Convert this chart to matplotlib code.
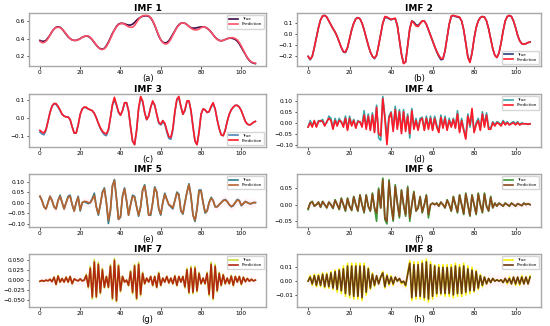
import numpy as np
import matplotlib
matplotlib.use("Agg")
import matplotlib.pyplot as plt

# values, one per time step (0..107)
imf1_true = [0.38, 0.37, 0.37, 0.38, 0.41, 0.44, 0.48, 0.51, 0.53, 0.535,
             0.53, 0.51, 0.48, 0.45, 0.42, 0.40, 0.385, 0.38, 0.38, 0.39,
             0.40, 0.415, 0.425, 0.43, 0.425, 0.41, 0.385, 0.355, 0.325, 0.30,
             0.285, 0.28, 0.29, 0.32, 0.36, 0.41, 0.46, 0.50, 0.54, 0.565,
             0.575, 0.575, 0.57, 0.56, 0.555, 0.555, 0.565, 0.585, 0.61, 0.63,
             0.645, 0.655, 0.66, 0.66, 0.655, 0.635, 0.60, 0.55, 0.49, 0.43,
             0.385, 0.36, 0.35, 0.355, 0.375, 0.41, 0.45, 0.49, 0.53, 0.56,
             0.575, 0.58, 0.575, 0.56, 0.54, 0.525, 0.52, 0.52, 0.525, 0.53,
             0.535, 0.535, 0.53, 0.52, 0.50, 0.475, 0.445, 0.415, 0.395, 0.38,
             0.375, 0.38, 0.39, 0.40, 0.405, 0.405, 0.40, 0.39, 0.37, 0.34,
             0.30, 0.26, 0.22, 0.18, 0.15, 0.13, 0.12, 0.115]
imf1_pred = [0.37, 0.355, 0.355, 0.37, 0.40, 0.44, 0.48, 0.51, 0.525, 0.53,
             0.525, 0.51, 0.485, 0.455, 0.425, 0.40, 0.385, 0.38, 0.38, 0.385,
             0.40, 0.415, 0.425, 0.43, 0.43, 0.415, 0.39, 0.36, 0.33, 0.30,
             0.28, 0.275, 0.285, 0.31, 0.35, 0.40, 0.45, 0.50, 0.535, 0.56,
             0.57, 0.575, 0.565, 0.55, 0.535, 0.53, 0.53, 0.55, 0.585, 0.62,
             0.645, 0.66, 0.665, 0.665, 0.66, 0.64, 0.605, 0.555, 0.495, 0.435,
             0.385, 0.355, 0.34, 0.34, 0.36, 0.395, 0.44, 0.485, 0.525, 0.555,
             0.575, 0.58, 0.575, 0.56, 0.54, 0.52, 0.505, 0.50, 0.50, 0.51,
             0.525, 0.535, 0.53, 0.52, 0.50, 0.475, 0.445, 0.415, 0.39, 0.38,
             0.375, 0.38, 0.39, 0.40, 0.405, 0.41, 0.41, 0.40, 0.385, 0.355,
             0.315, 0.27, 0.225, 0.185, 0.155, 0.135, 0.125, 0.12]

imf2_true = [-0.20, -0.23, -0.20, -0.12, -0.03, 0.06, 0.13, 0.165, 0.17, 0.155,
             0.12, 0.085, 0.05, 0.02, -0.02, -0.07, -0.12, -0.16, -0.165, -0.12,
             -0.04, 0.04, 0.10, 0.14, 0.15, 0.14, 0.10, 0.04, -0.03, -0.10,
             -0.16, -0.20, -0.22, -0.19, -0.10, 0.00, 0.10, 0.15, 0.15, 0.14,
             0.13, 0.14, 0.14, 0.08, -0.05, -0.18, -0.26, -0.25, -0.10, 0.05,
             0.12, 0.11, 0.085, 0.08, 0.10, 0.12, 0.12, 0.09, 0.04, -0.01,
             -0.06, -0.11, -0.16, -0.20, -0.23, -0.225, -0.15, -0.03, 0.09, 0.16,
             0.17, 0.16, 0.155, 0.15, 0.12, 0.04, -0.08, -0.20, -0.25, -0.17,
             -0.04, 0.06, 0.12, 0.15, 0.16, 0.155, 0.12, 0.05, -0.04, -0.13,
             -0.19, -0.21, -0.17, -0.08, 0.03, 0.12, 0.16, 0.17, 0.16, 0.12,
             0.06, -0.01, -0.06, -0.085, -0.09, -0.085, -0.075, -0.07]
imf2_pred = [-0.20, -0.225, -0.20, -0.12, -0.03, 0.06, 0.13, 0.165, 0.17, 0.155,
             0.12, 0.085, 0.05, 0.02, -0.02, -0.07, -0.12, -0.155, -0.16, -0.12,
             -0.04, 0.04, 0.10, 0.14, 0.15, 0.14, 0.10, 0.04, -0.03, -0.10,
             -0.16, -0.20, -0.215, -0.19, -0.10, 0.00, 0.10, 0.16, 0.155, 0.145,
             0.135, 0.14, 0.145, 0.08, -0.05, -0.18, -0.265, -0.25, -0.10, 0.05,
             0.12, 0.10, 0.075, 0.07, 0.095, 0.12, 0.12, 0.09, 0.04, -0.01,
             -0.06, -0.11, -0.155, -0.19, -0.22, -0.22, -0.15, -0.03, 0.09, 0.165,
             0.17, 0.165, 0.16, 0.155, 0.12, 0.04, -0.08, -0.21, -0.255, -0.17,
             -0.04, 0.06, 0.12, 0.15, 0.16, 0.155, 0.12, 0.05, -0.04, -0.13,
             -0.19, -0.21, -0.17, -0.08, 0.03, 0.12, 0.16, 0.17, 0.16, 0.12,
             0.06, -0.01, -0.06, -0.085, -0.09, -0.085, -0.075, -0.07]

imf3_true = [-0.08, -0.09, -0.095, -0.07, -0.02, 0.03, 0.065, 0.08, 0.075, 0.06,
             0.04, 0.02, 0.01, 0.005, 0.005, -0.01, -0.05, -0.085, -0.085, -0.04,
             0.02, 0.05, 0.06, 0.055, 0.05, 0.045, 0.04, 0.025, 0.0, -0.03,
             -0.06, -0.08, -0.095, -0.10, -0.07, 0.0, 0.07, 0.10, 0.07, 0.03,
             0.015, 0.04, 0.08, 0.085, 0.04, -0.05, -0.13, -0.15, -0.07, 0.05,
             0.11, 0.09, 0.03, -0.01, 0.01, 0.06, 0.09, 0.07, 0.02, -0.03,
             -0.04, -0.025, -0.035, -0.08, -0.115, -0.12, -0.07, 0.03, 0.10, 0.11,
             0.06, 0.02, 0.04, 0.09, 0.095, 0.04, -0.05, -0.13, -0.15, -0.08,
             0.02, 0.05, 0.045, 0.03, 0.035, 0.06, 0.08, 0.05, -0.01, -0.06,
             -0.095, -0.10, -0.07, -0.02, 0.02, 0.045, 0.06, 0.07, 0.07, 0.06,
             0.04, 0.01, -0.02, -0.035, -0.04, -0.035, -0.025, -0.02]
imf3_pred = [-0.07, -0.08, -0.085, -0.065, -0.02, 0.03, 0.065, 0.08, 0.08, 0.065,
             0.045, 0.02, 0.01, 0.005, 0.005, -0.01, -0.05, -0.085, -0.085, -0.04,
             0.02, 0.05, 0.06, 0.06, 0.05, 0.045, 0.04, 0.025, 0.0, -0.03,
             -0.055, -0.075, -0.085, -0.09, -0.065, 0.0, 0.075, 0.115, 0.075, 0.035,
             0.015, 0.04, 0.085, 0.085, 0.04, -0.05, -0.13, -0.15, -0.07, 0.055,
             0.12, 0.095, 0.03, -0.01, 0.01, 0.06, 0.095, 0.07, 0.02, -0.025,
             -0.035, -0.015, -0.03, -0.07, -0.105, -0.11, -0.06, 0.035, 0.105, 0.12,
             0.065, 0.02, 0.045, 0.095, 0.095, 0.04, -0.05, -0.13, -0.15, -0.08,
             0.02, 0.05, 0.045, 0.03, 0.035, 0.065, 0.085, 0.05, -0.01, -0.06,
             -0.095, -0.10, -0.07, -0.02, 0.02, 0.045, 0.06, 0.07, 0.07, 0.06,
             0.04, 0.01, -0.02, -0.035, -0.04, -0.035, -0.025, -0.02]

imf4_true = [-0.02, 0.01, -0.01, 0.005, -0.015, 0.01, 0.005, 0.015, -0.01, 0.0,
             0.03, 0.02, -0.02, 0.02, -0.01, 0.02, 0.0, -0.01, 0.03, -0.03,
             0.03, -0.01, 0.015, -0.02, 0.01, 0.0, -0.01, 0.055, -0.02, 0.04,
             -0.03, 0.045, -0.04, 0.08, -0.07, -0.08, 0.12, 0.03, -0.06, 0.03,
             0.05, -0.03, 0.075, -0.02, 0.06, -0.04, 0.06, -0.03, 0.04, -0.07,
             0.065, -0.02, 0.02, -0.03, 0.02, 0.025, -0.03, 0.03, -0.02, 0.03,
             -0.03, 0.03, -0.01, -0.04, 0.035, -0.02, 0.03, -0.03, 0.02, -0.015,
             0.02, -0.02, 0.055, -0.04, 0.02, -0.03, -0.065, 0.04, -0.02, 0.04,
             -0.04, 0.0, 0.02, -0.03, 0.05, -0.01, 0.045, -0.02, -0.025, 0.005,
             -0.01, 0.005, 0.0, -0.01, 0.01, -0.005, 0.005, -0.01, 0.0, 0.005,
             -0.005, 0.005, -0.01, 0.0, -0.005, -0.005, -0.005, -0.005]
imf4_pred = [-0.02, 0.0, -0.02, 0.01, -0.02, 0.005, 0.01, 0.005, -0.015, 0.005,
             0.02, 0.01, -0.03, 0.01, -0.015, 0.01, 0.005, -0.02, 0.02, -0.035,
             0.02, -0.015, 0.01, -0.025, 0.005, 0.005, -0.02, 0.035, -0.03, 0.03,
             -0.035, 0.035, -0.045, 0.07, -0.05, -0.06, 0.11, 0.02, -0.10, 0.02,
             0.045, -0.04, 0.06, -0.03, 0.05, -0.05, 0.05, -0.04, 0.03, -0.05,
             0.055, -0.03, 0.01, -0.035, 0.01, 0.02, -0.035, 0.02, -0.03, 0.02,
             -0.035, 0.02, -0.02, -0.045, 0.025, -0.025, 0.02, -0.035, 0.01, -0.02,
             0.015, -0.025, 0.04, -0.045, 0.01, -0.035, -0.075, 0.03, -0.01, 0.065,
             -0.045, -0.01, 0.01, -0.035, 0.04, -0.02, 0.035, -0.03, -0.03, 0.0,
             -0.015, 0.0, -0.005, -0.015, 0.005, -0.01, 0.0, -0.01, -0.005, 0.0,
             -0.01, 0.0, -0.01, -0.005, -0.005, -0.005, -0.008, -0.005]

imf5_true = [0.03, 0.01, -0.02, -0.03, 0.0, 0.03, 0.01, -0.02, -0.03, 0.01,
             0.035, 0.0, -0.03, 0.0, 0.03, 0.035, -0.01, -0.04, 0.0, 0.03,
             -0.04, 0.0, 0.005, 0.0, -0.005, 0.0, 0.02, 0.045, -0.02, -0.06,
             -0.01, 0.05, 0.07, 0.0, -0.10, -0.04, 0.08, 0.11, 0.02, -0.08,
             -0.07, 0.03, 0.07, 0.01, -0.06, -0.01, 0.035, 0.03, -0.02, -0.065,
             -0.02, 0.06, 0.085, 0.02, -0.06, -0.06, 0.0, 0.075, 0.05, -0.03,
             -0.06, 0.0, 0.045, 0.015, -0.01, -0.02, -0.03, 0.01, 0.05, 0.04,
             -0.04, -0.055, 0.0, 0.05, 0.09, 0.03, -0.06, -0.09, -0.03, 0.06,
             0.06, 0.0, -0.05, -0.04, 0.0, 0.025, 0.01, -0.02, -0.02, -0.01,
             0.0, 0.01, 0.015, 0.005, -0.01, -0.02, -0.015, 0.0, 0.015, 0.01,
             -0.015, -0.005, 0.005, 0.0, -0.005, -0.005, 0.0, 0.0]
imf5_pred = [0.03, 0.01, -0.02, -0.03, 0.0, 0.03, 0.01, -0.02, -0.03, 0.01,
             0.03, 0.0, -0.03, 0.0, 0.025, 0.03, -0.01, -0.04, 0.0, 0.025,
             -0.035, 0.0, 0.005, 0.005, 0.0, 0.0, 0.015, 0.035, -0.02, -0.055,
             -0.01, 0.045, 0.065, 0.0, -0.085, -0.035, 0.08, 0.105, 0.02, -0.08,
             -0.065, 0.03, 0.065, 0.01, -0.06, -0.01, 0.03, 0.025, -0.02, -0.06,
             -0.02, 0.06, 0.08, 0.02, -0.06, -0.055, 0.0, 0.07, 0.05, -0.03,
             -0.055, 0.0, 0.04, 0.015, -0.01, -0.015, -0.025, 0.01, 0.045, 0.035,
             -0.04, -0.05, 0.0, 0.05, 0.085, 0.03, -0.06, -0.085, -0.03, 0.055,
             0.055, 0.0, -0.045, -0.04, 0.0, 0.02, 0.01, -0.02, -0.02, -0.01,
             0.0, 0.01, 0.012, 0.005, -0.01, -0.018, -0.012, 0.0, 0.012, 0.008,
             -0.012, -0.005, 0.005, 0.0, -0.005, -0.005, 0.0, 0.0]

imf6_true = [-0.015, 0.005, 0.01, -0.005, 0.0, 0.008, -0.008, 0.01, 0.0, -0.01,
             0.008, 0.0, -0.012, 0.015, 0.0, -0.015, 0.02, 0.0, -0.02, 0.02,
             -0.005, -0.018, 0.025, 0.0, -0.02, 0.03, 0.0, -0.025, 0.03, -0.005,
             -0.02, 0.035, -0.01, -0.05, 0.05, -0.01, 0.08, -0.045, -0.058, 0.075,
             0.0, -0.05, 0.06, 0.005, -0.04, 0.045, 0.0, -0.035, 0.055, -0.05,
             0.0, 0.04, -0.02, -0.01, 0.025, -0.025, 0.0, 0.03, -0.04, 0.0,
             0.005, 0.0, 0.005, -0.005, 0.008, 0.0, -0.01, 0.015, 0.0, -0.02,
             0.025, 0.0, -0.025, 0.03, 0.0, -0.03, 0.035, 0.0, -0.035, 0.03,
             0.0, -0.03, 0.035, 0.0, -0.025, 0.035, -0.005, -0.02, 0.025, -0.01,
             0.005, -0.005, 0.005, 0.0, -0.005, 0.005, 0.0, -0.005, 0.005, 0.0,
             -0.005, 0.003, 0.0, -0.003, 0.005, 0.0, 0.003, 0.0]
imf6_pred = [-0.012, 0.005, 0.008, -0.004, 0.0, 0.007, -0.007, 0.009, 0.0, -0.009,
             0.007, 0.0, -0.01, 0.013, 0.0, -0.013, 0.018, 0.0, -0.017, 0.018,
             -0.005, -0.016, 0.023, 0.0, -0.018, 0.028, 0.0, -0.022, 0.028, -0.005,
             -0.018, 0.032, -0.01, -0.025, 0.045, -0.01, 0.075, -0.04, -0.05, 0.07,
             0.0, -0.045, 0.055, 0.005, -0.035, 0.042, 0.0, -0.03, 0.05, -0.04,
             0.0, 0.037, -0.018, -0.01, 0.023, -0.022, 0.0, 0.027, -0.03, 0.0,
             0.004, 0.0, 0.004, -0.004, 0.007, 0.0, -0.009, 0.013, 0.0, -0.018,
             0.023, 0.0, -0.022, 0.028, 0.0, -0.027, 0.032, 0.0, -0.032, 0.028,
             0.0, -0.027, 0.032, 0.0, -0.022, 0.032, -0.005, -0.018, 0.022, -0.009,
             0.004, -0.004, 0.004, 0.0, -0.004, 0.004, 0.0, -0.004, 0.004, 0.0,
             -0.004, 0.003, 0.0, -0.003, 0.004, 0.0, 0.003, 0.0]

imf7_true = [-0.003, -0.001, -0.003, 0.0, -0.002, 0.002, -0.004, 0.008, -0.012, 0.012,
             -0.006, 0.004, -0.005, 0.008, -0.006, 0.01, -0.01, 0.003, 0.0, -0.002,
             0.003, -0.002, 0.0, 0.015, -0.02, 0.035, -0.048, 0.052, -0.045, 0.045,
             -0.035, 0.03, -0.02, 0.01, -0.02, 0.04, -0.05, 0.055, -0.055, 0.04,
             -0.03, 0.01, -0.005, 0.0, -0.015, 0.025, -0.035, 0.04, -0.05, 0.045,
             -0.04, 0.02, -0.01, 0.005, -0.005, 0.01, -0.015, 0.01, -0.02, 0.02,
             -0.015, 0.005, -0.005, 0.01, -0.008, 0.005, -0.01, 0.012, -0.015, 0.01,
             -0.005, 0.01, -0.02, 0.03, -0.035, 0.035, -0.035, 0.035, -0.03, 0.02,
             -0.01, 0.005, -0.01, 0.02, -0.04, 0.045, -0.05, 0.04, -0.03, 0.02,
             -0.015, 0.015, -0.01, 0.005, -0.01, 0.012, -0.015, 0.01, -0.005, 0.01,
             -0.012, 0.008, -0.004, 0.005, -0.003, 0.002, -0.002, 0.0]
imf7_pred = [-0.003, -0.001, -0.003, 0.0, -0.002, 0.002, -0.004, 0.007, -0.011, 0.01,
             -0.005, 0.004, -0.005, 0.007, -0.005, 0.009, -0.009, 0.003, 0.0, -0.002,
             0.003, -0.002, 0.0, 0.012, -0.017, 0.03, -0.043, 0.046, -0.042, 0.04,
             -0.032, 0.026, -0.018, 0.009, -0.018, 0.035, -0.046, 0.05, -0.052, 0.036,
             -0.027, 0.009, -0.005, 0.0, -0.013, 0.021, -0.031, 0.036, -0.046, 0.04,
             -0.036, 0.017, -0.009, 0.005, -0.005, 0.009, -0.013, 0.009, -0.018, 0.017,
             -0.013, 0.005, -0.005, 0.009, -0.007, 0.005, -0.009, 0.01, -0.013, 0.009,
             -0.005, 0.009, -0.017, 0.026, -0.031, 0.03, -0.031, 0.03, -0.027, 0.017,
             -0.009, 0.005, -0.009, 0.017, -0.036, 0.04, -0.046, 0.035, -0.027, 0.017,
             -0.013, 0.013, -0.009, 0.005, -0.009, 0.01, -0.013, 0.009, -0.005, 0.009,
             -0.01, 0.007, -0.004, 0.004, -0.003, 0.002, -0.002, 0.0]

imf8_true = [0.0, 0.004, -0.003, 0.005, -0.004, 0.005, -0.004, 0.006, -0.005, 0.006,
             -0.005, 0.007, -0.006, 0.008, -0.008, 0.009, -0.009, 0.011, -0.011, 0.013,
             -0.012, 0.013, -0.013, 0.013, -0.013, 0.013, -0.014, 0.013, -0.01, 0.01,
             -0.006, 0.006, -0.004, 0.004, -0.002, 0.003, 0.007, -0.005, 0.005, -0.003,
             0.004, -0.003, 0.003, 0.0, 0.002, -0.002, 0.0, -0.004, 0.006, 0.015,
             -0.014, 0.014, -0.013, 0.014, -0.013, 0.015, -0.014, 0.016, -0.015, 0.014,
             -0.013, 0.012, -0.011, 0.012, -0.01, 0.012, -0.011, 0.012, -0.011, 0.012,
             -0.012, 0.013, -0.011, 0.012, -0.011, 0.013, -0.01, 0.011, -0.009, 0.01,
             -0.008, 0.008, -0.006, 0.005, -0.004, 0.003, -0.002, 0.002, -0.001, 0.002,
             0.0, 0.001, 0.0, 0.001, -0.001, 0.002, -0.002, 0.003, -0.002, 0.003,
             -0.003, 0.003, -0.003, 0.004, -0.002, 0.003, -0.002, 0.004]
imf8_pred = [0.0, 0.003, -0.002, 0.004, -0.003, 0.004, -0.003, 0.005, -0.004, 0.005,
             -0.004, 0.006, -0.005, 0.007, -0.006, 0.008, -0.007, 0.009, -0.009, 0.011,
             -0.01, 0.011, -0.011, 0.011, -0.011, 0.011, -0.012, 0.011, -0.008, 0.009,
             -0.005, 0.005, -0.003, 0.004, -0.002, 0.003, 0.006, -0.004, 0.004, -0.002,
             0.003, -0.002, 0.003, 0.0, 0.002, -0.001, 0.0, -0.003, 0.005, 0.013,
             -0.012, 0.012, -0.011, 0.012, -0.011, 0.013, -0.012, 0.014, -0.013, 0.012,
             -0.011, 0.011, -0.009, 0.01, -0.009, 0.01, -0.009, 0.01, -0.009, 0.01,
             -0.01, 0.011, -0.009, 0.01, -0.009, 0.011, -0.008, 0.009, -0.007, 0.008,
             -0.007, 0.007, -0.005, 0.004, -0.003, 0.003, -0.002, 0.002, -0.001, 0.002,
             0.0, 0.001, 0.0, 0.001, -0.001, 0.002, -0.001, 0.002, -0.002, 0.003,
             -0.002, 0.003, -0.002, 0.003, -0.002, 0.003, -0.002, 0.003]

titles = ["IMF 1", "IMF 2", "IMF 3", "IMF 4", "IMF 5", "IMF 6", "IMF 7", "IMF 8"]
sublabels = ["(a)", "(b)", "(c)", "(d)", "(e)", "(f)", "(g)", "(h)"]
trues = [imf1_true, imf2_true, imf3_true, imf4_true, imf5_true, imf6_true, imf7_true, imf8_true]
preds = [imf1_pred, imf2_pred, imf3_pred, imf4_pred, imf5_pred, imf6_pred, imf7_pred, imf8_pred]
true_colors = ["#3d0a4a", "#2b3d7a", "#4f86b5", "#3aa5a5", "#2c7f8c", "#3a9a3a", "#c8dc3c", "#f5f000"]
pred_colors = ["#ff5068", "#ff2030", "#ff1a2a", "#ff1a2a", "#b8632e", "#8b4a1a", "#b02a10", "#6a3a10"]
legend_locs = ["upper right", "lower right", "lower right", "upper right",
               "upper right", "upper right", "upper right", "upper right"]
band = [0, 0, 0, 0, 0.02, 0.01, 0.01, 0.004]   # faint pink spread around prediction
yticks = [[0.2, 0.4, 0.6], [-0.2, -0.1, 0.0, 0.1], [-0.1, 0.0, 0.1],
          [-0.10, -0.05, 0.00, 0.05, 0.10], [-0.10, -0.05, 0.00, 0.05, 0.10],
          [-0.05, 0.00, 0.05], [-0.050, -0.025, 0.000, 0.025, 0.050], [-0.01, 0.00, 0.01]]

fig = plt.figure(figsize=(5.5, 3.26), dpi=100)
lefts = [0.053, 0.54]
widths = [0.431, 0.444]
bottoms = [0.7975, 0.549, 0.3037, 0.0583]

for i in range(8):
    r, c = divmod(i, 2)
    ax = fig.add_axes([lefts[c], bottoms[r], widths[c], 0.1626])
    t = np.array(trues[i])
    p = np.array(preds[i])
    xt = np.arange(len(t))
    xp = np.arange(len(p))
    if band[i] > 0:
        ax.fill_between(xp, p - band[i], p + band[i], color="#ff69b4", alpha=0.08, lw=0)
    ax.plot(xt, t, color=true_colors[i], lw=1.2, label="True")
    ax.plot(xp, p, color=pred_colors[i], lw=1.2, label="Prediction")
    ax.set_title(titles[i], fontsize=6.5, fontweight="bold", pad=1.5)
    ax.set_xlabel(sublabels[i], fontsize=6, labelpad=-0.5)
    ax.set_xticks([0, 20, 40, 60, 80, 100])
    ax.set_yticks(yticks[i])
    ax.tick_params(labelsize=4.2, length=1.8, width=0.5, pad=1.2)
    for s in ax.spines.values():
        s.set_color("#a8a8a8")
        s.set_linewidth(1.0)
    ax.legend(loc=legend_locs[i], fontsize=3.0, frameon=True, handlelength=2.2,
              borderpad=0.5, labelspacing=0.3)

fig.savefig("out.png", dpi=100)
